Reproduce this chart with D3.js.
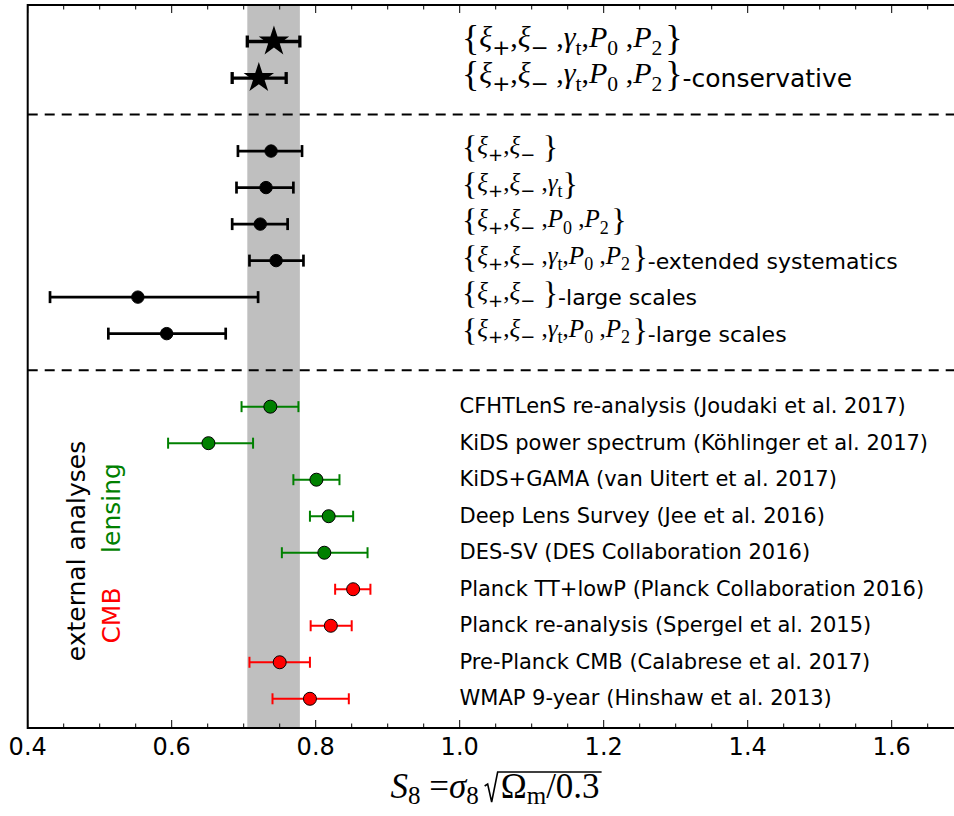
<!DOCTYPE html>
<html>
<head>
<meta charset="utf-8">
<script src="https://cdn.jsdelivr.net/npm/d3@7"></script>
<style>
  body { margin: 0; background: #fff; }
  text { white-space: pre; }
</style>
</head>
<body>
<div id="chart"></div>
<script>
// fiducial results (stars)
const topSets = ["all", "all"];
const topSuffix = ["", "-conservative"];
const topS8 = [0.742, 0.721];
const topLo = [0.705, 0.684];
const topHi = [0.778, 0.759];

// variations of the analysis (black circles)
const varSets = ["pm", "pmg", "pmP", "all", "pm", "all"];
const varSuffix = ["", "", "", "-extended systematics", "-large scales", "-large scales"];
const varS8 = [0.738, 0.731, 0.723, 0.745, 0.553, 0.593];
const varLo = [0.692, 0.690, 0.684, 0.708, 0.431, 0.512];
const varHi = [0.781, 0.769, 0.761, 0.783, 0.720, 0.675];

// external analyses
const extNames = [
  "CFHTLenS re-analysis (Joudaki et al. 2017)",
  "KiDS power spectrum (Köhlinger et al. 2017)",
  "KiDS+GAMA (van Uitert et al. 2017)",
  "Deep Lens Survey (Jee et al. 2016)",
  "DES-SV (DES Collaboration 2016)",
  "Planck TT+lowP (Planck Collaboration 2016)",
  "Planck re-analysis (Spergel et al. 2015)",
  "Pre-Planck CMB (Calabrese et al. 2017)",
  "WMAP 9-year (Hinshaw et al. 2013)"
];
const extKind = ["lensing", "lensing", "lensing", "lensing", "lensing", "cmb", "cmb", "cmb", "cmb"];
const extS8 = [0.737, 0.651, 0.801, 0.818, 0.812, 0.852, 0.821, 0.750, 0.792];
const extLo = [0.697, 0.595, 0.769, 0.792, 0.753, 0.827, 0.793, 0.708, 0.740];
const extHi = [0.776, 0.713, 0.833, 0.852, 0.872, 0.876, 0.850, 0.792, 0.846];

// shaded band = fiducial 68% range
const band = [0.705, 0.778];

const xMajor = [0.4, 0.6, 0.8, 1.0, 1.2, 1.4, 1.6];
const xMinor = d3.range(0.45, 1.7, 0.05);

const kindColor = { lensing: "#008000", cmb: "#ff0000" };

const W = 954, H = 816;
const x = d3.scaleLinear().domain([0.4, 1.7]).range([27.7, 963.7]);
// one unit per row, rows counted from the top
const y = d3.scaleLinear().domain([-1, 18.8]).range([5, 728]);

const svg = d3.select("#chart").append("svg").attr("width", W).attr("height", H);

// build rows
const rows = [];
topS8.forEach((v, i) => rows.push({ row: i, v, lo: topLo[i], hi: topHi[i], type: "star", set: topSets[i], suffix: topSuffix[i] }));
varS8.forEach((v, i) => rows.push({ row: 3 + i, v, lo: varLo[i], hi: varHi[i], type: "dot", set: varSets[i], suffix: varSuffix[i] }));
extS8.forEach((v, i) => rows.push({ row: 10 + i, v, lo: extLo[i], hi: extHi[i], type: "ext", color: kindColor[extKind[i]], name: extNames[i] }));

// band
svg.append("rect")
  .attr("x", x(band[0])).attr("width", x(band[1]) - x(band[0]))
  .attr("y", y(-1)).attr("height", y(18.8) - y(-1))
  .attr("fill", "#bfbfbf");

// separators
svg.selectAll("line.sep").data([2, 9]).enter().append("line")
  .attr("class", "sep")
  .attr("x1", x(0.4)).attr("x2", W)
  .attr("y1", d => y(d)).attr("y2", d => y(d))
  .attr("stroke", "#000").attr("stroke-width", 2).attr("stroke-dasharray", "10,7");

// error bars
const style = {
  star: { lw: 3.3, cap: 12, color: "#000" },
  dot: { lw: 2.7, cap: 12, color: "#000" },
  ext: { lw: 2, cap: 11 }
};
const eb = svg.append("g");
rows.forEach(d => {
  const s = style[d.type];
  const c = d.color || s.color;
  const g = eb.append("g").attr("stroke", c).attr("stroke-width", s.lw);
  g.append("line").attr("x1", x(d.lo)).attr("x2", x(d.hi)).attr("y1", y(d.row)).attr("y2", y(d.row));
  [d.lo, d.hi].forEach(e => {
    g.append("line").attr("x1", x(e)).attr("x2", x(e))
      .attr("y1", y(d.row) - s.cap / 2).attr("y2", y(d.row) + s.cap / 2);
  });
});

// markers
svg.selectAll("path.star").data(rows.filter(d => d.type === "star")).enter().append("path")
  .attr("class", "star")
  .attr("d", d3.symbol().type(d3.symbolStar).size(287))
  .attr("transform", d => `translate(${x(d.v)},${y(d.row)})`)
  .attr("fill", "#000");
svg.selectAll("circle.dot").data(rows.filter(d => d.type !== "star")).enter().append("circle")
  .attr("class", "dot")
  .attr("cx", d => x(d.v)).attr("cy", d => y(d.row))
  .attr("r", d => d.type === "ext" ? 6.5 : 6.2)
  .attr("fill", d => d.color || "#000")
  .attr("stroke", "#000").attr("stroke-width", 1);

// math labels like {xi+, xi-, gamma_t, P0, P2}
// kinds: b brace, i italic, r roman, s subscript, o subscript operator, w wide space
const tokenSets = {
  pm: [["{", "b"], ["ξ", "i"], ["+", "o"], [",", "r"], ["ξ", "i"], ["−", "o"], [" ", "w"], ["}", "b"]],
  pmg: [["{", "b"], ["ξ", "i"], ["+", "o"], [",", "r"], ["ξ", "i"], ["−", "o"], [" ,", "r"], ["γ", "i"], ["t", "s"], ["}", "b"]],
  pmP: [["{", "b"], ["ξ", "i"], ["+", "o"], [",", "r"], ["ξ", "i"], ["−", "o"], [" ,", "r"], ["P", "i"], ["0", "s"], [" ,", "r"], ["P", "i"], ["2", "s"], [" ", "r"], ["}", "b"]],
  all: [["{", "b"], ["ξ", "i"], ["+", "o"], [",", "r"], ["ξ", "i"], ["−", "o"], [" ,", "r"], ["γ", "i"], ["t", "s"], [",", "r"], ["P", "i"], ["0", "s"], [" ,", "r"], ["P", "i"], ["2", "s"], [" ", "r"], ["}", "b"]]
};

function mathLabel(d, size, braceSize, suffixSize, baseOff) {
  const rowY = y(d.row);
  const base = rowY + baseOff;
  const t = svg.append("text").attr("x", 462).attr("y", base)
    .attr("font-family", "'Liberation Serif', serif").attr("font-size", size).attr("fill", "#000");
  tokenSets[d.set].forEach(([txt, kind]) => {
    const sp = t.append("tspan").text(txt);
    let yy = base;
    if (kind === "i") sp.attr("font-style", "italic");
    if (kind === "s") { sp.attr("font-size", size * 0.72); yy = base + 0.27 * size; }
    if (kind === "o") {
      sp.attr("font-size", size * 0.72).attr("font-family", "'DejaVu Sans', sans-serif");
      yy = base + 0.27 * size;
    }
    if (kind === "r" && txt.trim() === "") sp.attr("font-size", size * 0.4);
    if (kind === "w") sp.attr("font-size", size * 1.2);
    if (kind === "b") { sp.attr("font-size", braceSize); yy = rowY - 1 + 0.25 * braceSize; }
    sp.attr("y", yy);
  });
  if (d.suffix) {
    t.append("tspan").text(d.suffix).attr("y", rowY + 0.36 * suffixSize)
      .attr("font-family", "'DejaVu Sans', sans-serif").attr("font-size", suffixSize);
  }
}

rows.filter(d => d.type === "star").forEach(d => mathLabel(d, 30, 36, 25, 5));
rows.filter(d => d.type === "dot").forEach(d => mathLabel(d, 25, 32, 22, 3));

svg.selectAll("text.ext").data(rows.filter(d => d.type === "ext")).enter().append("text")
  .attr("class", "ext")
  .attr("x", 459.5).attr("y", d => y(d.row) + 6.5)
  .attr("font-family", "'DejaVu Sans', sans-serif").attr("font-size", 21)
  .text(d => d.name);

// rotated group labels
const side = [
  { txt: "external analyses", cx: 85, cy: 551, color: "#000" },
  { txt: "lensing", cx: 120, cy: 508, color: kindColor.lensing },
  { txt: "CMB", cx: 120, cy: 615.5, color: kindColor.cmb }
];
svg.selectAll("text.side").data(side).enter().append("text")
  .attr("class", "side")
  .attr("transform", d => `translate(${d.cx},${d.cy}) rotate(-90)`)
  .attr("text-anchor", "middle")
  .attr("font-family", "'DejaVu Sans', sans-serif").attr("font-size", 25)
  .attr("fill", d => d.color)
  .text(d => d.txt);

// axes: ticks inside, top and bottom
const axG = svg.append("g");
const isMajor = v => xMajor.some(m => Math.abs(m - v) < 1e-6);
const tickLen = v => (isMajor(v) ? 8 : 4.5);
const allTicks = xMajor.concat(xMinor.filter(v => !isMajor(v)));
axG.selectAll("line.tb").data(allTicks).enter().append("line")
  .attr("x1", d => x(d)).attr("x2", d => x(d))
  .attr("y1", y(18.8)).attr("y2", d => y(18.8) - tickLen(d))
  .attr("stroke", "#000").attr("stroke-width", 1);
axG.selectAll("line.tt").data(allTicks).enter().append("line")
  .attr("x1", d => x(d)).attr("x2", d => x(d))
  .attr("y1", y(-1)).attr("y2", d => y(-1) + tickLen(d))
  .attr("stroke", "#000").attr("stroke-width", 1);

axG.selectAll("text.tick").data(xMajor).enter().append("text")
  .attr("x", d => x(d)).attr("y", 755)
  .attr("text-anchor", "middle")
  .attr("font-family", "'DejaVu Sans', sans-serif").attr("font-size", 24)
  .text(d => d3.format(".1f")(d));

// spines
axG.append("path")
  .attr("d", `M${W + 5},${y(-1)}H${x(0.4)}V${y(18.8)}H${W + 5}`)
  .attr("fill", "none").attr("stroke", "#000").attr("stroke-width", 2);

// x-axis label: S_8 = sigma_8 sqrt(Omega_m / 0.3)
const fs = 35, sub = 25, lb = 798;
const xl = svg.append("g").attr("font-family", "'Liberation Serif', serif").attr("font-size", fs);
const left = xl.append("text").attr("y", lb);
left.append("tspan").text("S").attr("font-style", "italic");
left.append("tspan").text("8").attr("font-size", sub).attr("y", lb + 6);
left.append("tspan").text(" =").attr("y", lb);
left.append("tspan").text("σ").attr("font-style", "italic");
left.append("tspan").text("8").attr("font-size", sub).attr("y", lb + 6);
const rad = xl.append("text").attr("y", lb);
rad.append("tspan").text("Ω");
rad.append("tspan").text("m").attr("font-size", sub).attr("y", lb + 6);
rad.append("tspan").text("/0.3").attr("y", lb);
const lw = left.node().getComputedTextLength();
const rw = rad.node().getComputedTextLength();
const radW = 13, gap = 6;
const x0 = 495 - (lw + gap + radW + 3 + rw) / 2;
left.attr("x", x0);
const rx = x0 + lw + gap;
rad.attr("x", rx + radW + 3);
const overY = lb - 26;
xl.append("path")
  .attr("d", `M${rx},${lb - 12}L${rx + 3},${lb - 14}L${rx + 7},${lb + 4}L${rx + radW},${overY}H${rx + radW + 3 + rw + 2}`)
  .attr("fill", "none").attr("stroke", "#000").attr("stroke-width", 1.6).attr("stroke-linejoin", "miter");
</script>
</body>
</html>
